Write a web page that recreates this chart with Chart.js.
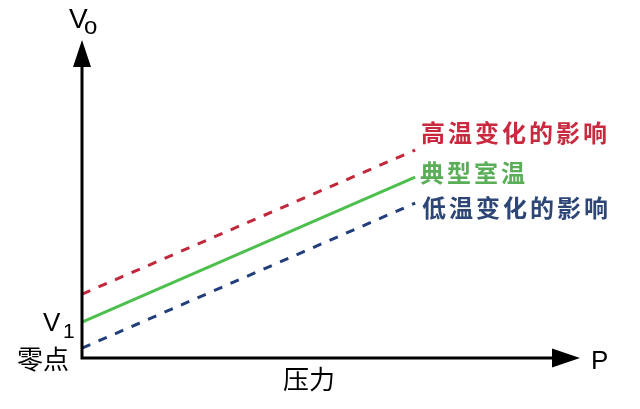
<!DOCTYPE html>
<html>
<head>
<meta charset="utf-8">
<script src="https://cdn.jsdelivr.net/npm/chart.js@4"></script>
<style>
  html, body { margin: 0; padding: 0; background: #ffffff; }
  #wrap { width: 640px; height: 409px; position: relative; }
</style>
</head>
<body>
<div id="wrap"><canvas id="c" width="640" height="409"></canvas></div>
<script>
// ---- data ----
const pressure = [0, 66.9];               // P, arbitrary units
const highTemp = [20.1, 65.4];            // 高温变化的影响
const roomTemp = [11.3, 56.9];            // 典型室温
const lowTemp  = [3.1, 48.7];             // 低温变化的影响
const seriesNames = ['高温变化的影响', '典型室温', '低温变化的影响'];
const axisTitleX = '压力';
const axisSymbolX = 'P';
const axisSymbolY = ['V', 'o'];
const yTickLabels = [['V', '1'], '零点'];
const yTickValues = [11.3, 0];

const COLORS = {
  redLine: '#c1283b', greenLine: '#4cbf4c', blueLine: '#233f7b',
  redText: '#c92a3f', greenText: '#5aae58', blueText: '#2d4676'
};
const CJK = '"Noto Sans CJK SC", "Noto Sans", sans-serif';
const LAT = '"Liberation Sans", Arial, sans-serif';

function pts(xs, ys) { return xs.map((x, i) => ({ x: x, y: ys[i] })); }

const annotate = {
  id: 'annotate',
  afterDraw(chart) {
    const ctx = chart.ctx;
    const a = chart.chartArea;
    const xs = chart.scales.x, ys = chart.scales.y;
    const ox = xs.getPixelForValue(0), oy = ys.getPixelForValue(0);
    ctx.save();
    // axes
    ctx.strokeStyle = '#000'; ctx.fillStyle = '#000'; ctx.lineWidth = 3;
    ctx.lineCap = 'butt';
    ctx.beginPath();
    ctx.moveTo(ox, a.top + 26); ctx.lineTo(ox, oy + 1.5);
    ctx.moveTo(ox - 1.5, oy); ctx.lineTo(a.right - 27, oy);
    ctx.stroke();
    // arrowheads
    ctx.beginPath();
    ctx.moveTo(ox, a.top); ctx.lineTo(ox - 9, a.top + 27); ctx.lineTo(ox + 9, a.top + 27); ctx.closePath();
    ctx.fill();
    ctx.beginPath();
    ctx.moveTo(a.right, oy); ctx.lineTo(a.right - 28, oy - 9.5); ctx.lineTo(a.right - 28, oy + 9.5); ctx.closePath();
    ctx.fill();

    // axis symbols
    ctx.textBaseline = 'alphabetic'; ctx.textAlign = 'left';
    ctx.font = '28px ' + LAT;
    ctx.fillText(axisSymbolY[0], 69, 28);
    ctx.font = '24px ' + LAT;
    ctx.fillText(axisSymbolY[1], 84, 34);
    ctx.font = '26px ' + LAT;
    ctx.fillText(axisSymbolX, a.right + 11, 369);

    // y tick labels
    const v1y = ys.getPixelForValue(yTickValues[0]);
    ctx.font = '26px ' + LAT;
    ctx.fillText(yTickLabels[0][0], 43, v1y + 9);
    ctx.font = '21px ' + LAT;
    ctx.fillText(yTickLabels[0][1], 63, v1y + 16);
    ctx.textBaseline = 'middle';
    ctx.font = '26px ' + CJK;
    ctx.fillText(yTickLabels[1], 17, ys.getPixelForValue(yTickValues[1]) + 1);
    // x title
    ctx.fillText(axisTitleX, 283, 379);

    // series labels
    ctx.font = 'bold 24px ' + CJK;
    if ('letterSpacing' in ctx) ctx.letterSpacing = '3px';
    ctx.fillStyle = COLORS.redText;   ctx.fillText(seriesNames[0], 421, 133);
    ctx.fillStyle = COLORS.greenText; ctx.fillText(seriesNames[1], 420, 173);
    ctx.fillStyle = COLORS.blueText;  ctx.fillText(seriesNames[2], 422, 208);
    ctx.restore();
  }
};

new Chart(document.getElementById('c'), {
  type: 'line',
  data: {
    datasets: [
      { label: seriesNames[0], data: pts(pressure, highTemp), borderColor: COLORS.redLine, borderWidth: 3, borderDash: [9, 9], pointRadius: 0, fill: false },
      { label: seriesNames[1], data: pts(pressure, roomTemp), borderColor: COLORS.greenLine, borderWidth: 3, pointRadius: 0, fill: false },
      { label: seriesNames[2], data: pts(pressure, lowTemp), borderColor: COLORS.blueLine, borderWidth: 3, borderDash: [9, 9], pointRadius: 0, fill: false }
    ]
  },
  options: {
    responsive: false,
    animation: false,
    layout: { padding: { left: 82, right: 60, top: 40, bottom: 51 } },
    plugins: { legend: { display: false }, tooltip: { enabled: false } },
    scales: {
      x: { type: 'linear', min: 0, max: 100, display: false },
      y: { type: 'linear', min: 0, max: 100, display: false }
    }
  },
  plugins: [annotate]
});
</script>
</body>
</html>
